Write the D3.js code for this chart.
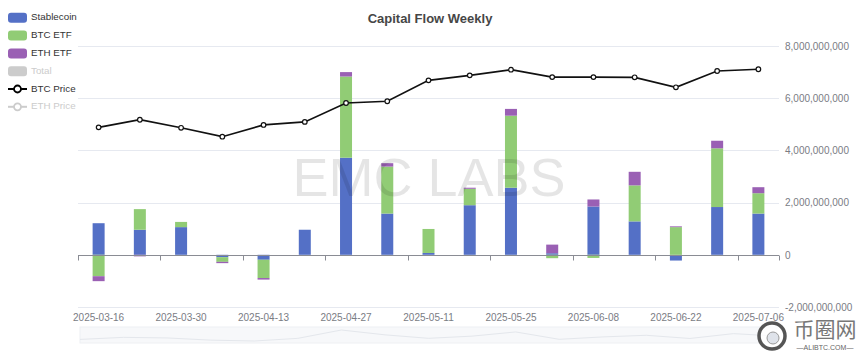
<!DOCTYPE html>
<html>
<head>
<meta charset="utf-8">
<script src="https://cdn.jsdelivr.net/npm/d3@7/dist/d3.min.js"></script>
<style>
  html, body { margin: 0; padding: 0; background: #fff; }
  svg { display: block; font-family: "Liberation Sans", Arial, Helvetica, sans-serif; }
</style>
</head>
<body>
<svg id="chart" width="860" height="355"></svg>
<script>
// ---------- data ----------
const dates = ["2025-03-16","2025-03-23","2025-03-30","2025-04-06","2025-04-13","2025-04-20",
  "2025-04-27","2025-05-04","2025-05-11","2025-05-18","2025-05-25","2025-06-01",
  "2025-06-08","2025-06-15","2025-06-22","2025-06-29","2025-07-06"];
const stablecoin = [1.21e9, 0.96e9, 1.06e9, -0.09e9, -0.19e9, 0.96e9, 3.72e9, 1.58e9, 0.07e9,
  1.90e9, 2.57e9, 0.06e9, 1.85e9, 1.28e9, -0.22e9, 1.83e9, 1.58e9];
const btcEtf = [-0.82e9, 0.79e9, 0.20e9, -0.18e9, -0.70e9, 0, 3.11e9, 1.80e9, 0.92e9,
  0.63e9, 2.76e9, -0.13e9, -0.12e9, 1.38e9, 1.06e9, 2.25e9, 0.78e9];
const ethEtf = [-0.19e9, -0.06e9, 0, -0.05e9, -0.06e9, 0, 0.17e9, 0.13e9, 0,
  0.04e9, 0.26e9, 0.33e9, 0.27e9, 0.52e9, 0.03e9, 0.29e9, 0.23e9];
const btcPrice = [82600, 86100, 82400, 78300, 83700, 85100, 93800, 94600, 104200,
  106500, 109100, 105700, 105700, 105600, 101000, 108500, 109300];
const yTicks = [-2e9, 0, 2e9, 4e9, 6e9, 8e9];
const seriesNames = ["Stablecoin", "BTC ETF", "ETH ETF"];
const legendItems = [
  {name: "Stablecoin", type: "rect", color: "#5470c6"},
  {name: "BTC ETF", type: "rect", color: "#91cc75"},
  {name: "ETH ETF", type: "rect", color: "#9a60b4"},
  {name: "Total", type: "rect", color: "#cccccc", off: true},
  {name: "BTC Price", type: "line", color: "#000000"},
  {name: "ETH Price", type: "line", color: "#cccccc", off: true}
];
const colors = {"Stablecoin": "#5470c6", "BTC ETF": "#91cc75", "ETH ETF": "#9a60b4"};

// ---------- layout ----------
const svg = d3.select("#chart");
const plotL = 78, plotR = 779, plotT = 46, plotB = 307;

const x = d3.scaleBand().domain(dates).range([plotL, plotR]);
const y = d3.scaleLinear().domain([-2e9, 8e9]).range([plotB, plotT]);
const yPrice = d3.scaleLinear().domain([0, 120000]).range([plotB, plotT]);

const loc = d3.formatLocale({decimal: ".", thousands: ",", grouping: [3], currency: ["$", ""], minus: "-"});
const fmt = loc.format(",");

// grid lines
svg.append("g").selectAll("line").data(yTicks.filter(d => d !== 0)).join("line")
  .attr("x1", plotL).attr("x2", plotR)
  .attr("y1", d => Math.round(y(d)) + 0.5).attr("y2", d => Math.round(y(d)) + 0.5)
  .attr("stroke", "#e6e9f0").attr("stroke-width", 1);

// right axis labels
const yAxis = d3.axisRight(y).tickValues(yTicks).tickFormat(fmt).tickSize(0).tickPadding(6);
svg.append("g").attr("transform", `translate(${plotR},0)`).call(yAxis)
  .call(g => g.select(".domain").remove())
  .call(g => g.selectAll("text").attr("fill", "#7a7c84").attr("font-size", "10px")
    .attr("font-family", "Liberation Sans, Arial, sans-serif"));

// stacked bars (same-sign stacking)
const barW = 12;
const stacks = [];
dates.forEach((d, i) => {
  let pos = 0, neg = 0;
  [stablecoin, btcEtf, ethEtf].forEach((arr, k) => {
    const v = arr[i];
    if (v === 0) return;
    let y0, y1;
    if (v >= 0) { y0 = pos; y1 = pos + v; pos = y1; }
    else { y0 = neg; y1 = neg + v; neg = y1; }
    stacks.push({date: d, series: seriesNames[k], y0, y1});
  });
});
svg.append("g").selectAll("rect").data(stacks).join("rect")
  .attr("x", d => x(d.date) + x.bandwidth() / 2 - barW / 2)
  .attr("width", barW)
  .attr("y", d => Math.min(y(d.y0), y(d.y1)))
  .attr("height", d => Math.abs(y(d.y0) - y(d.y1)))
  .attr("fill", d => colors[d.series]);

// x axis at zero
const xAxisG = svg.append("g");
const zeroY = Math.round(y(0)) + 0.5;
xAxisG.append("line").attr("x1", plotL).attr("x2", plotR).attr("y1", zeroY).attr("y2", zeroY)
  .attr("stroke", "#8a8c94").attr("stroke-width", 1);
const tickIdx = d3.range(0, dates.length + 1).filter(i => i % 2 === 0 || i === dates.length);
xAxisG.selectAll("line.tick").data(tickIdx).join("line").attr("class", "tick")
  .attr("x1", i => Math.round(plotL + i * x.step()) + 0.5).attr("x2", i => Math.round(plotL + i * x.step()) + 0.5)
  .attr("y1", zeroY).attr("y2", zeroY + 5)
  .attr("stroke", "#8a8c94").attr("stroke-width", 1);
svg.append("g").selectAll("text").data(dates.filter((d, i) => i % 2 === 0)).join("text")
  .attr("x", d => x(d) + x.bandwidth() / 2).attr("y", 318)
  .attr("text-anchor", "middle").attr("dominant-baseline", "middle")
  .attr("fill", "#7a7c84").attr("font-size", "10px").text(d => d);

// BTC price line
const line = d3.line().x((d, i) => x(dates[i]) + x.bandwidth() / 2).y(d => yPrice(d));
svg.append("path").datum(btcPrice).attr("d", line)
  .attr("fill", "none").attr("stroke", "#111").attr("stroke-width", 1.7);
svg.append("g").selectAll("circle").data(btcPrice).join("circle")
  .attr("cx", (d, i) => x(dates[i]) + x.bandwidth() / 2).attr("cy", d => yPrice(d))
  .attr("r", 2.3).attr("fill", "#fff").attr("stroke", "#111").attr("stroke-width", 1.2);

// watermark
svg.append("text").attr("x", 429).attr("y", 196).attr("text-anchor", "middle")
  .attr("font-size", "54px").attr("fill", "#000").attr("fill-opacity", 0.1)
  .text("EMC LABS");

// title
svg.append("text").attr("x", 430).attr("y", 20).attr("text-anchor", "middle")
  .attr("dominant-baseline", "middle").attr("font-size", "13px").attr("font-weight", "bold")
  .attr("fill", "#464646").text("Capital Flow Weekly");

// legend
const lg = svg.append("g").selectAll("g").data(legendItems).join("g")
  .attr("transform", (d, i) => `translate(8,${17.8 + i * 17.8})`);
lg.filter(d => d.type === "rect").append("rect")
  .attr("x", 0).attr("y", -5).attr("width", 19).attr("height", 10).attr("rx", 3)
  .attr("fill", d => d.color);
lg.filter(d => d.type === "line").append("line")
  .attr("x1", 0).attr("x2", 19).attr("y1", 0).attr("y2", 0)
  .attr("stroke", d => d.color).attr("stroke-width", 2);
lg.filter(d => d.type === "line").append("circle")
  .attr("cx", 9.5).attr("cy", 0).attr("r", 3.5).attr("fill", "#fff")
  .attr("stroke", d => d.color).attr("stroke-width", 1.8);
lg.append("text").attr("x", 23).attr("y", 0).attr("dominant-baseline", "middle")
  .attr("font-size", "9.8px").attr("fill", d => d.off ? "#cccccc" : "#333").text(d => d.name);

// data zoom slider
const sl = svg.append("g");
const slX0 = 80, slX1 = 777, slY0 = 327, slY1 = 343;
sl.append("rect").attr("x", slX0).attr("y", slY0).attr("width", slX1 - slX0).attr("height", slY1 - slY0)
  .attr("fill", "#f7f8fa").attr("stroke", "#eef0f3");
const totals = dates.map((d, i) => stablecoin[i] + btcEtf[i] + ethEtf[i]);
const sx = d3.scalePoint().domain(dates).range([slX0, slX1]);
const sy = d3.scaleLinear().domain(d3.extent(totals)).range([slY1 - 2, slY0 + 3]);
sl.append("path").datum(totals)
  .attr("d", d3.line().x((d, i) => sx(dates[i])).y(d => sy(d)))
  .attr("fill", "none").attr("stroke", "#e4e7ec").attr("stroke-width", 1);

// corner logo
const logo = svg.append("g");
logo.append("circle").attr("cx", 772).attr("cy", 336).attr("r", 13)
  .attr("fill", "#fff").attr("fill-opacity", 0.8).attr("stroke", "#555").attr("stroke-width", 3.5);
logo.append("circle").attr("cx", 773).attr("cy", 338).attr("r", 6)
  .attr("fill", "#dfe3ea").attr("stroke", "#999").attr("stroke-width", 1);
logo.append("text").attr("x", 825).attr("y", 331).attr("text-anchor", "middle")
  .attr("dominant-baseline", "middle").attr("font-family", "Noto Sans CJK SC")
  .attr("font-size", "21px").attr("fill", "#777").text("币圈网");
logo.append("text").attr("x", 825).attr("y", 348).attr("text-anchor", "middle")
  .attr("dominant-baseline", "middle").attr("font-size", "7px").attr("fill", "#666")
  .text("—ALIBTC.COM—");
</script>
</body>
</html>
